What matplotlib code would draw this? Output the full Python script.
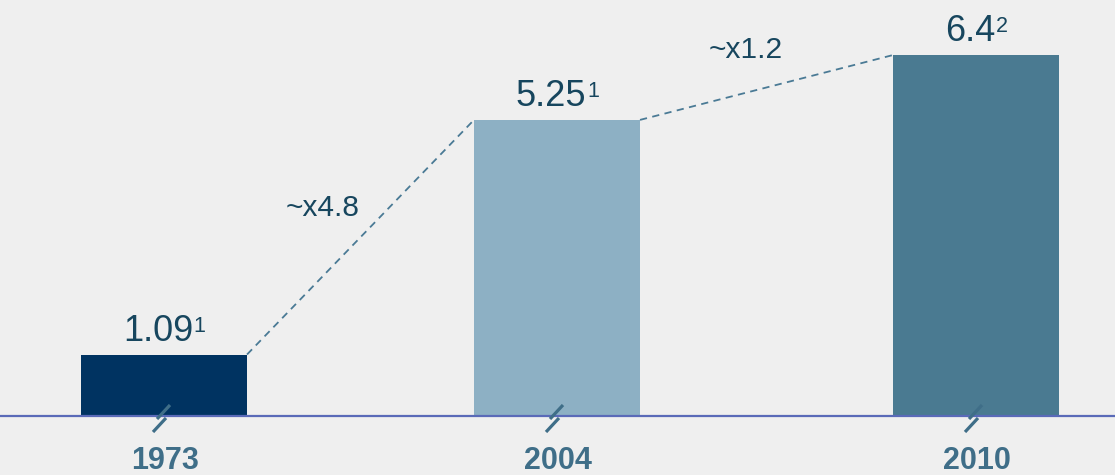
import matplotlib.pyplot as plt

years = ["1973", "2004", "2010"]
values = [1.09, 5.25, 6.4]
value_text = ["1.09", "5.25", "6.4"]
footnotes = ["1", "1", "2"]
growth_labels = ["~x4.8", "~x1.2"]

BG = "#efefef"
BAR_COLORS = ["#003361", "#8db0c4", "#4a7a91"]
TEXT_DARK = "#17465e"
YEAR_COLOR = "#3f6e88"
DASH_COLOR = "#4a7a95"
BASE_COLOR = "#5a6ab8"

W, H = 1115, 475
BASE_PX = 416           # baseline, pixels from top
PX_PER_UNIT = 56.4

plt.rcParams["font.family"] = ["Liberation Sans", "DejaVu Sans"]

fig = plt.figure(figsize=(W / 100, H / 100), dpi=100, facecolor=BG)
ax = fig.add_axes([0, 0, 1, 1])
ax.set_facecolor(BG)
ax.set_xlim(0, W)
ax.set_ylim(-(H - BASE_PX) / PX_PER_UNIT, BASE_PX / PX_PER_UNIT)
ax.axis("off")

centers = [164, 557, 976]
width = 166
ax.bar(centers, values, width=width, color=BAR_COLORS, zorder=2)

# baseline
ax.axhline(0, color=BASE_COLOR, lw=1.6, zorder=3)

def py(px):
    # pixel offset below the baseline -> data units
    return -px / PX_PER_UNIT

# axis-break marks at each bar foot
for c in centers:
    ax.plot([c - 7, c + 6], [py(3), py(-11)], color=YEAR_COLOR, lw=2.3,
            solid_capstyle="butt", zorder=4)
    ax.plot([c - 11, c + 2], [py(16), py(2)], color=YEAR_COLOR, lw=2.3,
            solid_capstyle="butt", zorder=4)

# value labels with footnote markers
for c, v, t, f in zip(centers, values, value_text, footnotes):
    base = v + 14 / PX_PER_UNIT
    main = ax.text(c - 6, base, t, ha="center", va="baseline",
                   fontsize=26, color=TEXT_DARK)
    ax.annotate(f, xy=(1, base + 9 / PX_PER_UNIT), xycoords=(main, "data"),
                xytext=(0.5, 0), textcoords="offset points",
                ha="left", va="baseline", fontsize=15.5, color=TEXT_DARK)

# year labels
for c, y in zip(centers, years):
    ax.text(c + 1, py(45), y, ha="center", va="center", fontsize=22,
            fontweight="bold", color=YEAR_COLOR)

# dashed growth connectors between bars
for i in range(len(values) - 1):
    x0 = centers[i] + width / 2
    x1 = centers[i + 1] - width / 2
    ax.plot([x0, x1], [values[i], values[i + 1]], ls=(0, (4, 3)),
            color=DASH_COLOR, lw=1.3, zorder=1)

ax.text(323, py(208 - BASE_PX), growth_labels[0], ha="center", va="center",
        fontsize=21.5, color=TEXT_DARK)
ax.text(746, py(50 - BASE_PX), growth_labels[1], ha="center", va="center",
        fontsize=21.5, color=TEXT_DARK)

fig.savefig("out.png", dpi=100, facecolor=BG)
